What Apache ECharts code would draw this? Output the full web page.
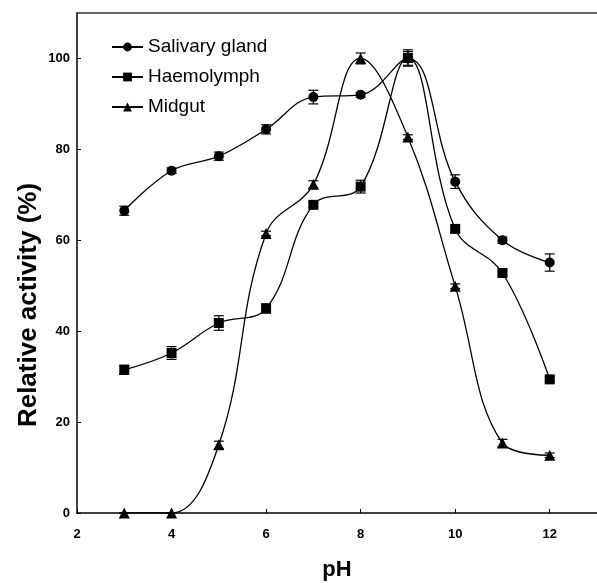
<!DOCTYPE html>
<html>
<head>
<meta charset="utf-8">
<script src="https://cdn.jsdelivr.net/npm/echarts@6/dist/echarts.min.js"></script>
<style>
  html, body { margin: 0; padding: 0; background: #fff; }
  #main { width: 597px; height: 583px; }
</style>
</head>
<body>
<div id="main"></div>
<script>
        var myChart = echarts.init(document.getElementById('main'));

        // pH values
        var phValues = [3, 4, 5, 6, 7, 8, 9, 10, 11, 12];

        // relative activity (%) and error (+/-)
        var salivary = [66.5, 75.3, 78.5, 84.4, 91.5, 92, 100, 72.9, 60, 55.1];
        var salivaryErr = [1, 0.6, 0.9, 1, 1.5, 0.5, 1.5, 1.5, 0.7, 1.9];
        var haemolymph = [31.5, 35.2, 41.8, 45, 67.8, 71.8, 100.1, 62.5, 52.8, 29.4];
        var haemolymphErr = [1, 1.4, 1.6, 1, 0.6, 1.4, 1.8, 0.8, 0.5, 0.5];
        var midgut = [0, 0, 15, 61.5, 72.3, 100, 82.7, 49.9, 15.4, 12.7];
        var midgutErr = [0, 0, 0.8, 0.5, 0.8, 1.2, 0.5, 0.5, 0.8, 0.5];

        var xTicks = [2, 4, 6, 8, 10, 12];
        var yTicks = [0, 20, 40, 60, 80, 100];

        var font = 'Arial, "Liberation Sans", sans-serif';

        function pairs(vals) {
            return phValues.map((x, i) => [x, vals[i]]);
        }
        function errData(vals, errs) {
            return phValues.map((x, i) => [x, vals[i] - errs[i], vals[i] + errs[i]]);
        }

        // 误差线
        function renderErr(params, api) {
            var lo = api.coord([api.value(0), api.value(1)]);
            var hi = api.coord([api.value(0), api.value(2)]);
            var w = 5;
            var style = { stroke: '#000', lineWidth: 1.2 };
            return {
                type: 'group',
                children: [
                    { type: 'line', shape: { x1: lo[0], y1: lo[1], x2: hi[0], y2: hi[1] }, style: style },
                    { type: 'line', shape: { x1: lo[0] - w, y1: lo[1], x2: lo[0] + w, y2: lo[1] }, style: style },
                    { type: 'line', shape: { x1: hi[0] - w, y1: hi[1], x2: hi[0] + w, y2: hi[1] }, style: style }
                ]
            };
        }

        function lineSeries(name, vals, symbol, size) {
            return {
                name: name,
                type: 'line',
                data: pairs(vals),
                smooth: 0.4,
                symbol: symbol,
                symbolSize: size,
                itemStyle: { color: '#000' },
                lineStyle: { color: '#000', width: 1.3 },
                z: 3
            };
        }
        function errSeries(vals, errs) {
            return {
                type: 'custom',
                data: errData(vals, errs),
                renderItem: renderErr,
                encode: { x: 0, y: [1, 2] },
                silent: true,
                z: 2
            };
        }

        var option = {
            backgroundColor: '#fff',
            animation: false,
            grid: { left: 77, right: 0, top: 13, bottom: 70, outerBoundsMode: 'none', containLabel: false },
            legend: {
                data: ['Salivary gland', 'Haemolymph', 'Midgut'],
                orient: 'vertical',
                left: 106,
                top: 31,
                itemWidth: 31,
                itemHeight: 11,
                itemGap: 8,
                textStyle: { fontFamily: font, fontSize: 19, color: '#000', lineHeight: 22 }
            },
            xAxis: [{
                type: 'value',
                min: 2,
                max: 13,
                interval: 2,
                name: 'pH',
                nameLocation: 'middle',
                nameGap: 46,
                nameTextStyle: { fontFamily: font, fontSize: 22, fontWeight: 'bold', color: '#000' },
                axisLine: { lineStyle: { color: '#000', width: 1.5 } },
                axisTick: { inside: true, length: 4, lineStyle: { color: '#000' } },
                axisLabel: {
                    showMaxLabel: false,
                    margin: 15,
                    fontFamily: font, fontSize: 13, fontWeight: 'bold', color: '#000',
                    formatter: v => xTicks.indexOf(v) >= 0 ? String(v) : ''
                },
                splitLine: { show: false }
            }, {
                type: 'value',
                position: 'top',
                min: 2,
                max: 13,
                axisLine: { show: true, onZero: false, lineStyle: { color: '#333', width: 1.5 } },
                axisTick: { show: false },
                axisLabel: { show: false },
                splitLine: { show: false }
            }],
            yAxis: {
                type: 'value',
                min: 0,
                max: 110,
                interval: 20,
                axisLine: { show: true, lineStyle: { color: '#000', width: 1.5 } },
                axisTick: { show: true, inside: true, length: 4, lineStyle: { color: '#000' } },
                axisLabel: {
                    showMaxLabel: false,
                    margin: 7,
                    fontFamily: font, fontSize: 13, fontWeight: 'bold', color: '#000',
                    formatter: v => yTicks.indexOf(v) >= 0 ? String(v) : ''
                },
                splitLine: { show: false }
            },
            graphic: [{
                type: 'text',
                rotation: Math.PI / 2,
                x: 29, y: 305,
                style: {
                    text: 'Relative activity (%)',
                    font: 'bold 26px ' + font,
                    fill: '#000',
                    align: 'center',
                    verticalAlign: 'middle'
                }
            }],
            series: [
                errSeries(salivary, salivaryErr),
                errSeries(haemolymph, haemolymphErr),
                errSeries(midgut, midgutErr),
                lineSeries('Salivary gland', salivary, 'circle', 10),
                lineSeries('Haemolymph', haemolymph, 'rect', 10),
                lineSeries('Midgut', midgut, 'triangle', 11)
            ]
        };
        myChart.setOption(option);
</script>
</body>
</html>
